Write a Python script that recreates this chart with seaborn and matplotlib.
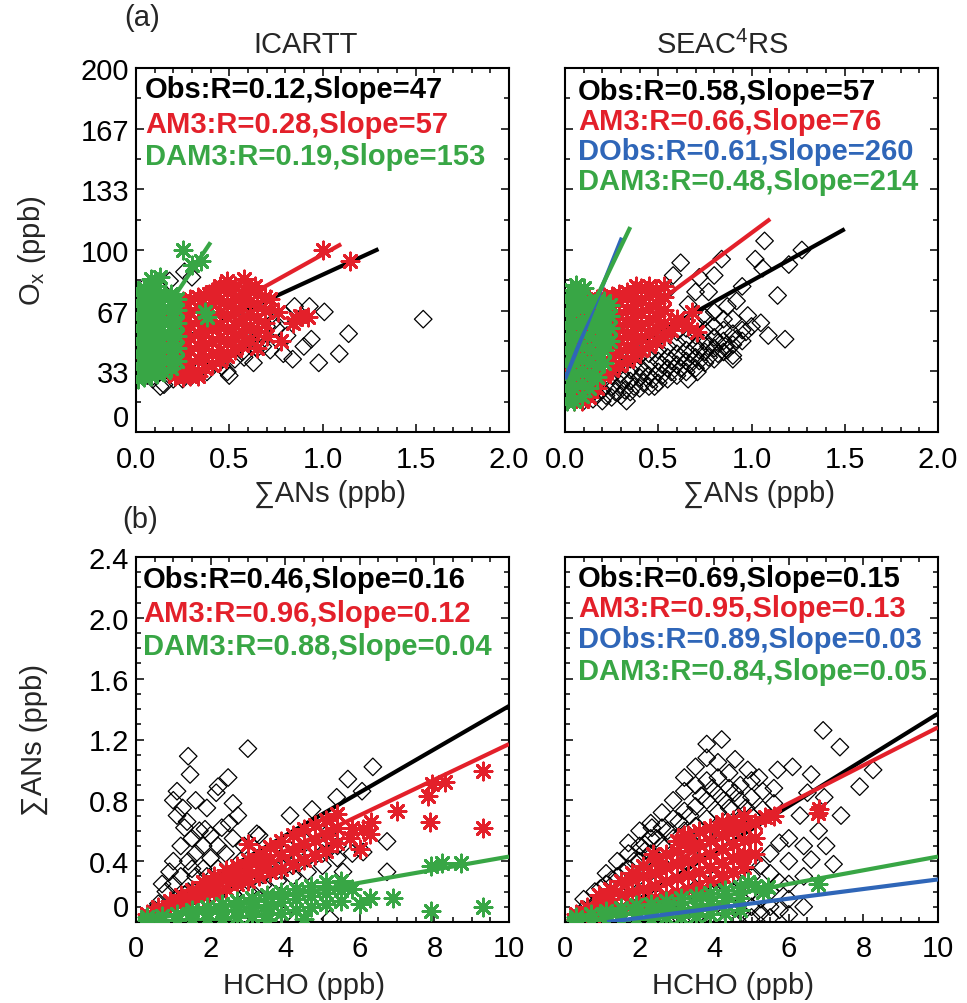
import numpy as np
import pandas as pd
import matplotlib
matplotlib.use("Agg")
import matplotlib.pyplot as plt
import seaborn as sns
from matplotlib.ticker import FixedLocator, MultipleLocator

sns.set_style("ticks")
plt.rcParams['font.family'] = ['Liberation Sans', 'DejaVu Sans']
plt.rcParams['mathtext.default'] = 'regular'

BLACK = '#000000'; RED = '#E3202A'; GREEN = '#38A645'; BLUE = '#2F66B8'

# ---------------- data ----------------
# (a) ICARTT : Ox (ppb) vs sum ANs (ppb)
ic_ox_obs = [(1.54,62),(1.14,54),(1.09,43),(0.98,38),(0.94,51),(1.01,66),(0.93,69),(0.85,69),
             (0.84,40),(0.79,43),(0.80,64),(0.81,53),(0.73,60),(0.70,58),(0.68,53),(0.65,46),
             (0.63,38),(0.57,44),(0.50,31),(0.49,33),(0.41,40),(0.38,33),(0.25,29),(0.20,29),
             (0.15,26),(0.13,25),(0.09,29),(0.06,31),(0.30,85),(0.26,88),(0.04,79),(0.18,83),
             (0.46,36),(0.55,48),(0.60,55),(0.35,35),(0.30,31),(0.75,57),(0.90,47),(0.72,45),
             (0.44,38),(0.53,40),(0.58,41),(0.61,50),(0.68,47)]
ic_ox_am3 = [(0.17,34),(0.17,44),(0.17,54),(0.17,64),(0.21,31),(0.21,41),(0.21,51),(0.21,61),(0.21,70),
             (0.25,30),(0.25,37),(0.25,44),(0.25,51),(0.25,58),(0.25,65),(0.25,72),
             (0.29,31),(0.29,38),(0.29,45),(0.29,52),(0.29,59),(0.29,66),(0.29,73),
             (0.33,33),(0.33,40),(0.33,47),(0.33,54),(0.33,61),(0.33,68),(0.33,74),
             (0.37,35),(0.37,41),(0.37,48),(0.37,55),(0.37,62),(0.37,69),(0.37,75),
             (0.41,37),(0.41,43),(0.41,50),(0.41,57),(0.41,64),(0.41,71),(0.41,77),
             (0.45,39),(0.45,45),(0.45,52),(0.45,59),(0.45,66),(0.45,73),(0.45,79),
             (0.49,42),(0.49,49),(0.49,56),(0.49,63),(0.49,70),(0.49,77),
             (0.53,45),(0.53,52),(0.53,59),(0.53,66),(0.53,73),(0.53,80),
             (0.57,48),(0.57,55),(0.57,62),(0.57,69),(0.57,76),
             (0.61,51),(0.61,58),(0.61,65),(0.61,72),(0.61,79),
             (0.65,55),(0.65,62),(0.65,69),(0.65,76),(0.69,60),(0.69,67),(0.69,74),
             (1.00,100),(1.15,94),(0.92,63),(0.84,60),(0.78,50),(0.58,84),(0.49,83),(0.39,76),
             (0.45,80),(0.64,80),(0.72,73),(0.76,66),(0.70,53),(0.65,46),(0.33,31),(0.20,36),
             (0.86,62),(0.88,64)]
ic_ox_dam3 = [(0.01,29),(0.01,36),(0.01,43),(0.01,50),(0.01,57),(0.01,64),(0.01,71),(0.01,77),
              (0.045,30),(0.045,37),(0.045,44),(0.045,51),(0.045,58),(0.045,65),(0.045,72),(0.045,79),
              (0.08,31),(0.08,38),(0.08,45),(0.08,52),(0.08,59),(0.08,66),(0.08,73),(0.08,80),
              (0.115,32),(0.115,39),(0.115,46),(0.115,53),(0.115,60),(0.115,67),(0.115,74),(0.115,80),
              (0.15,33),(0.15,40),(0.15,47),(0.15,54),(0.15,61),(0.15,68),(0.15,75),
              (0.185,35),(0.185,42),(0.185,49),(0.185,56),(0.185,63),(0.185,70),(0.185,76),
              (0.22,39),(0.22,46),(0.22,53),(0.22,60),(0.22,67),(0.22,73),
              (0.25,100),(0.35,94),(0.13,85),(0.38,63),(0.08,84),(0.37,66),(0.30,92)]

# (a) SEAC4RS : Ox (ppb) vs sum ANs (ppb)
se_ox_obs = [(0.10,17),(0.10,22),(0.15,18),(0.15,24),(0.20,17),(0.20,23),(0.20,28),(0.25,19),(0.25,25),
             (0.25,31),(0.30,20),(0.30,26),(0.30,32),(0.35,22),(0.35,28),(0.35,34),(0.35,40),(0.40,24),
             (0.40,30),(0.40,36),(0.40,42),(0.45,25),(0.45,31),(0.45,37),(0.45,43),(0.50,27),(0.50,33),
             (0.50,39),(0.50,45),(0.55,29),(0.55,35),(0.55,41),(0.55,47),(0.60,31),(0.60,37),(0.60,43),
             (0.60,49),(0.60,55),(0.65,33),(0.65,39),(0.65,45),(0.65,51),(0.65,57),(0.70,35),(0.70,41),
             (0.70,47),(0.70,53),(0.70,60),(0.75,38),(0.75,44),(0.75,50),(0.75,56),(0.75,63),(0.80,40),
             (0.80,46),(0.80,52),(0.80,58),(0.80,66),(0.85,44),(0.85,50),(0.85,56),(0.85,62),(0.90,42),
             (0.90,48),(0.90,54),(0.95,50),(0.95,56),
             (0.12,20),(0.17,21),(0.22,20),(0.27,22),(0.32,23),(0.37,25),(0.42,27),(0.47,29),(0.52,31),
             (0.57,33),(0.62,35),(0.67,37),(0.72,39),(0.77,41),(0.82,43),(0.87,45),(0.92,51),
             (0.32,29),(0.42,33),(0.52,37),(0.62,41),(0.72,45),(0.82,49),(0.57,39),(0.67,43),(0.77,47),
             (1.07,105),(1.27,100),(1.20,92),(1.14,75),(1.18,51),(1.02,95),(1.06,90),(0.84,95),(0.80,86),
             (0.62,93),(0.58,86),(0.77,77),(0.87,69),(0.98,64),(0.97,55),(1.09,53),(0.86,47),(0.90,40),
             (0.71,33),(0.66,29),(0.48,25),(0.33,17),(0.70,77),(0.92,72),(0.66,70),(0.74,64),(1.00,58),
             (0.55,78),(0.95,80),(1.05,60),(0.90,62),(0.72,85)]
se_ox_am3 = [(0.05,17),(0.05,24),(0.05,31),(0.05,38),(0.05,45),(0.05,52),(0.05,59),(0.05,66),(0.05,72),
             (0.09,17),(0.09,24),(0.09,31),(0.09,38),(0.09,45),(0.09,52),(0.09,59),(0.09,66),(0.09,72),
             (0.13,19),(0.13,27),(0.13,34),(0.13,41),(0.13,48),(0.13,55),(0.13,62),(0.13,69),(0.13,73),
             (0.17,24),(0.17,31),(0.17,38),(0.17,45),(0.17,52),(0.17,59),(0.17,66),(0.17,73),
             (0.21,32),(0.21,39),(0.21,46),(0.21,53),(0.21,60),(0.21,67),(0.21,74),
             (0.25,34),(0.25,41),(0.25,48),(0.25,55),(0.25,62),(0.25,69),(0.25,75),
             (0.29,37),(0.29,44),(0.29,51),(0.29,58),(0.29,65),(0.29,72),(0.29,76),
             (0.33,39),(0.33,46),(0.33,53),(0.33,60),(0.33,67),(0.33,74),(0.33,77),
             (0.37,42),(0.37,49),(0.37,56),(0.37,63),(0.37,70),(0.37,77),
             (0.41,45),(0.41,52),(0.41,59),(0.41,66),(0.41,73),(0.41,79),
             (0.45,47),(0.45,54),(0.45,61),(0.45,68),(0.45,75),(0.45,80),
             (0.49,50),(0.49,57),(0.49,64),(0.49,71),(0.49,78),
             (0.53,53),(0.53,60),(0.53,67),(0.53,74),(0.53,80),
             (0.38,80),(0.71,55),(0.68,66),(0.21,31),(0.63,60),(0.60,62),(0.57,56),(0.66,58),(0.15,25)]
se_ox_dam3 = [(0.01,17),(0.01,24),(0.01,31),(0.01,38),(0.01,45),(0.01,52),(0.01,59),(0.01,66),(0.01,73),
              (0.05,17),(0.05,24),(0.05,31),(0.05,38),(0.05,45),(0.05,52),(0.05,59),(0.05,66),(0.05,73),
              (0.09,20),(0.09,27),(0.09,34),(0.09,41),(0.09,48),(0.09,55),(0.09,62),(0.09,69),(0.09,74),
              (0.13,24),(0.13,31),(0.13,38),(0.13,45),(0.13,52),(0.13,59),(0.13,66),(0.13,72),
              (0.17,30),(0.17,37),(0.17,44),(0.17,51),(0.17,58),(0.17,65),(0.17,72),
              (0.21,38),(0.21,45),(0.21,52),(0.21,59),(0.21,66),(0.21,72),
              (0.24,50),(0.24,57),(0.24,64),(0.24,70),
              (0.06,81),(0.10,79),(0.03,78)]

# (b) ICARTT : sum ANs (ppb) vs HCHO (ppb)
ic_an_obs = [(0.5,0.08),(0.6,0.12),(0.8,0.20),(0.9,0.33),(1.0,0.25),(1.0,0.40),(1.1,0.70),(1.2,0.30),
             (1.2,0.50),(1.25,0.75),(1.3,0.62),(1.4,0.20),(1.4,0.40),(1.5,0.55),(1.6,0.30),(1.6,0.45),
             (1.7,0.60),(1.8,0.35),(1.8,0.50),(2.0,0.42),(2.0,0.57),(2.2,0.50),(2.3,0.62),(2.4,0.45),
             (2.5,0.65),(2.6,0.55),(2.9,0.50),(3.3,0.57),(1.1,0.15),(1.3,0.18),(1.5,0.35),(1.9,0.30),
             (2.2,0.35),(2.8,0.40),(0.7,0.25),(1.9,0.75),(2.6,0.78),(1.6,0.80),
             (2.6,0.18),(3.0,0.20),(3.0,0.27),(3.4,0.24),(3.4,0.31),(3.8,0.27),(3.8,0.34),(4.2,0.30),
             (4.2,0.37),(4.6,0.33),(4.6,0.42),(5.0,0.37),(5.0,0.45),(5.4,0.42),(5.4,0.50),(5.8,0.45),
             (4.0,0.45),(4.4,0.52),(4.8,0.58),(5.2,0.60),(2.2,0.15),(1.8,0.12),
             (3.0,1.14),(1.4,1.09),(1.45,0.97),(2.47,0.95),(1.1,0.86),(1.0,0.80),(2.2,0.89),(2.15,0.85),
             (2.73,0.70),(6.35,1.02),(5.68,0.94),(5.38,0.82),(6.06,0.86),(6.73,0.53),(6.73,0.33),
             (4.72,0.74),(4.13,0.70),(3.24,0.58),(1.85,0.61),(1.37,0.66),(5.2,0.55),(6.09,0.46),
             (5.55,0.33),(5.2,0.02),(3.4,0.03),(4.0,0.05)]
ic_an_am3 = [(0.3,0.05),(0.6,0.07),(0.6,0.10),(0.9,0.10),(0.9,0.14),(1.2,0.12),(1.2,0.18),
             (1.5,0.15),(1.5,0.21),(1.8,0.17),(1.8,0.22),(1.8,0.26),(2.1,0.20),(2.1,0.25),(2.1,0.30),
             (2.4,0.22),(2.4,0.28),(2.4,0.34),(2.7,0.25),(2.7,0.31),(2.7,0.37),(3.0,0.27),(3.0,0.34),
             (3.0,0.41),(3.3,0.30),(3.3,0.37),(3.3,0.45),(3.6,0.33),(3.6,0.41),(3.6,0.49),(3.9,0.35),
             (3.9,0.44),(3.9,0.53),(4.2,0.38),(4.2,0.47),(4.2,0.57),(4.5,0.41),(4.5,0.51),(4.5,0.61),
             (4.8,0.44),(4.8,0.54),(4.8,0.64),(5.1,0.47),(5.1,0.57),(5.1,0.67),(5.4,0.52),(5.4,0.62),
             (5.4,0.71),
             (7.94,0.91),(8.28,0.92),(7.83,0.83),(7.0,0.73),(7.88,0.66),(6.09,0.61),(6.27,0.58),
             (5.74,0.55),(6.0,0.48),(3.0,0.51),(9.3,0.99),(9.3,0.62),(6.3,0.66),(5.8,0.62)]
ic_an_dam3 = [(0.3,0.01),(0.3,0.03),(0.7,0.01),(0.7,0.04),(1.1,0.01),(1.1,0.05),(1.5,0.02),(1.5,0.06),
              (1.5,0.08),(1.9,0.02),(1.9,0.06),(1.9,0.10),(2.3,0.02),(2.3,0.07),(2.3,0.12),(2.7,0.03),
              (2.7,0.08),(2.7,0.14),(3.1,0.04),(3.1,0.10),(3.1,0.16),(3.5,0.05),(3.5,0.11),(3.5,0.18),
              (3.9,0.06),(3.9,0.13),(3.9,0.20),(4.3,0.08),(4.3,0.15),(4.3,0.22),(4.7,0.10),(4.7,0.17),
              (4.7,0.24),(5.1,0.12),(5.1,0.19),(5.1,0.26),(5.5,0.14),(5.5,0.21),(5.5,0.27),
              (6.27,0.16),(6.9,0.16),(7.9,0.07),(7.9,0.37),(8.2,0.39),(8.7,0.39),(9.3,0.10),(5.8,0.22),
              (6.0,0.12),(4.5,0.02),(3.5,0.01)]

# (b) SEAC4RS : sum ANs (ppb) vs HCHO (ppb)
se_an_obs = [(0.5,0.08),(0.5,0.15),(0.8,0.12),(0.8,0.20),(1.1,0.15),(1.1,0.25),(1.1,0.32),(1.4,0.20),
             (1.4,0.30),(1.4,0.40),(1.7,0.25),(1.7,0.35),(1.7,0.45),(1.7,0.52),(2.0,0.30),(2.0,0.40),
             (2.0,0.50),(2.0,0.60),(2.3,0.33),(2.3,0.45),(2.3,0.55),(2.3,0.65),(2.6,0.38),(2.6,0.50),
             (2.6,0.62),(2.6,0.72),(2.9,0.42),(2.9,0.55),(2.9,0.68),(2.9,0.80),(3.2,0.47),(3.2,0.60),
             (3.2,0.73),(3.2,0.86),(3.2,0.95),(3.5,0.50),(3.5,0.63),(3.5,0.76),(3.5,0.90),(3.5,1.02),
             (3.8,0.55),(3.8,0.68),(3.8,0.80),(3.8,0.93),(3.8,1.08),(4.1,0.60),(4.1,0.72),(4.1,0.84),
             (4.1,0.95),(4.1,1.05),(4.4,0.63),(4.4,0.75),(4.4,0.88),(4.4,0.98),(4.7,0.68),(4.7,0.80),
             (4.7,0.90),(5.0,0.70),(5.0,0.82),(5.0,0.93),(5.3,0.74),(5.3,0.86),(5.6,0.78),(5.6,0.88),
             (0.95,0.22),(1.25,0.28),(1.55,0.33),(1.85,0.40),(2.15,0.47),(2.45,0.55),(2.75,0.60),
             (3.05,0.66),(3.35,0.70),(3.65,0.83),(3.95,0.88),(4.25,0.80),(4.55,0.85),(4.85,0.75),
             (2.5,0.15),(3.0,0.05),(3.0,0.17),(3.5,0.03),(3.5,0.12),(3.5,0.22),(4.0,0.03),(4.0,0.10),
             (4.0,0.20),(4.0,0.28),(4.5,0.02),(4.5,0.10),(4.5,0.20),(4.5,0.30),(5.0,0.03),(5.0,0.10),
             (5.0,0.20),(5.0,0.30),(5.0,0.40),(5.5,0.03),(5.5,0.10),(5.5,0.20),(5.5,0.32),(5.5,0.45),
             (6.0,0.05),(6.0,0.15),(6.0,0.25),(6.0,0.40),(6.0,0.55),(6.4,0.10),(6.4,0.30),(6.4,0.50),
             (5.25,0.15),(5.75,0.26),(5.25,0.37),(5.75,0.52),(4.75,0.06),(5.25,0.06),(5.75,0.08),
             (6.92,1.26),(7.37,1.15),(4.2,1.20),(3.8,1.17),(4.56,1.07),(6.1,1.02),(6.6,0.97),(8.26,1.00),
             (7.9,0.89),(5.2,0.95),(6.95,0.82),(7.4,0.70),(6.6,0.41),(7.2,0.38),(2.33,0.62),(2.14,0.51),
             (6.3,0.70),(6.8,0.60),(6.5,0.85),(5.7,1.00),(4.9,1.00),(7.0,0.50)]
se_an_am3 = [(0.3,0.02),(0.3,0.05),(0.6,0.04),(0.6,0.10),(0.9,0.06),(0.9,0.12),(0.9,0.18),(1.2,0.08),
             (1.2,0.15),(1.2,0.22),(1.5,0.10),(1.5,0.18),(1.5,0.27),(1.8,0.12),(1.8,0.20),(1.8,0.28),
             (1.8,0.32),(2.1,0.14),(2.1,0.22),(2.1,0.30),(2.1,0.37),(2.4,0.16),(2.4,0.24),(2.4,0.32),
             (2.4,0.40),(2.7,0.18),(2.7,0.27),(2.7,0.36),(2.7,0.45),(3.0,0.20),(3.0,0.29),(3.0,0.38),
             (3.0,0.47),(3.0,0.53),(3.3,0.22),(3.3,0.31),(3.3,0.40),(3.3,0.49),(3.3,0.57),(3.6,0.24),
             (3.6,0.33),(3.6,0.42),(3.6,0.51),(3.6,0.60),(3.9,0.27),(3.9,0.36),(3.9,0.45),(3.9,0.54),
             (3.9,0.62),(4.2,0.30),(4.2,0.39),(4.2,0.48),(4.2,0.57),(4.2,0.64),(4.5,0.33),(4.5,0.42),
             (4.5,0.51),(4.5,0.60),(4.5,0.67),(4.8,0.36),(4.8,0.45),(4.8,0.54),(4.8,0.63),(4.8,0.70),
             (5.1,0.45),(5.1,0.55),(5.1,0.65),
             (6.78,0.72),(5.36,0.69),(4.2,0.66),(3.2,0.57),(2.36,0.45),(4.77,0.43),(5.1,0.55),(4.24,0.30),
             (5.6,0.70),(6.8,0.74)]
se_an_dam3 = [(0.3,0.01),(0.3,0.03),(0.7,0.01),(0.7,0.05),(1.1,0.01),(1.1,0.05),(1.1,0.07),(1.5,0.01),
              (1.5,0.05),(1.5,0.09),(1.9,0.02),(1.9,0.06),(1.9,0.11),(2.3,0.02),(2.3,0.07),(2.3,0.12),
              (2.7,0.03),(2.7,0.08),(2.7,0.14),(3.1,0.03),(3.1,0.09),(3.1,0.16),(3.5,0.04),(3.5,0.10),
              (3.5,0.17),(3.9,0.05),(3.9,0.12),(3.9,0.19),(4.3,0.06),(4.3,0.14),(4.3,0.21),(4.7,0.08),
              (4.7,0.16),(4.7,0.23),
              (6.78,0.25),(5.44,0.23),(5.1,0.24),(5.3,0.20),(4.9,0.26)]

# regression lines: (intercept, slope, x start, x end)
fit_ic_ox = {'obs': (39.4, 47, 0.0, 1.30), 'am3': (40.5, 57, 0.0, 1.10), 'dam3': (43.0, 153, 0.0, 0.40)}
fit_se_ox = {'obs': (26.0, 57, 0.1, 1.50), 'am3': (33.4, 76, 0.0, 1.10),
             'dobs': (29.0, 255, 0.0, 0.305), 'dam3': (37.7, 214, 0.0, 0.35)}
fit_ic_an = {'obs': (0.0, 0.142, 0.1, 10), 'am3': (0.0, 0.117, 0.1, 10), 'dam3': (0.0, 0.043, 0.1, 10)}
fit_se_an = {'obs': (-0.15, 0.152, 1.0, 10), 'am3': (0.03, 0.125, 0.2, 10),
             'dobs': (-0.036, 0.0316, 1.13, 10), 'dam3': (-0.02, 0.045, 0.5, 10)}

# annotation texts
txt_ic_ox = [("Obs:R=0.12,Slope=47", BLACK), ("AM3:R=0.28,Slope=57", RED), ("DAM3:R=0.19,Slope=153", GREEN)]
txt_se_ox = [("Obs:R=0.58,Slope=57", BLACK), ("AM3:R=0.66,Slope=76", RED),
             ("DObs:R=0.61,Slope=260", BLUE), ("DAM3:R=0.48,Slope=214", GREEN)]
txt_ic_an = [("Obs:R=0.46,Slope=0.16", BLACK), ("AM3:R=0.96,Slope=0.12", RED), ("DAM3:R=0.88,Slope=0.04", GREEN)]
txt_se_an = [("Obs:R=0.69,Slope=0.15", BLACK), ("AM3:R=0.95,Slope=0.13", RED),
             ("DObs:R=0.89,Slope=0.03", BLUE), ("DAM3:R=0.84,Slope=0.05", GREEN)]

ox_ticks = [0, 200/6, 400/6, 100, 800/6, 1000/6, 200]
ox_ticklabels = ["0", "33", "67", "100", "133", "167", "200"]
an_ticks = [0, 0.4, 0.8, 1.2, 1.6, 2.0, 2.4]
an_ticklabels = ["0", "0.4", "0.8", "1.2", "1.6", "2.0", "2.4"]
ansx_ticks = [0, 0.5, 1.0, 1.5, 2.0]
ansx_ticklabels = ["0.0", "0.5", "1.0", "1.5", "2.0"]
hcho_ticks = [0, 2, 4, 6, 8, 10]
hcho_ticklabels = ["0", "2", "4", "6", "8", "10"]

# ---------------- drawing ----------------
W, H = 967, 1004
fig = plt.figure(figsize=(W/100, H/100), dpi=100)

def axes_px(left, top, right, bottom):
    return fig.add_axes([left/W, 1-bottom/H, (right-left)/W, (bottom-top)/H])

ax1 = axes_px(136, 69, 509, 433)
ax2 = axes_px(565, 69, 938, 433)
ax3 = axes_px(136, 558, 509, 923)
ax4 = axes_px(565, 558, 938, 923)

FS = 21

def scatter(ax, pts, kind, color, z):
    df = pd.DataFrame(pts, columns=['x', 'y'])
    if kind == 'diamond':
        sns.scatterplot(data=df, x='x', y='y', ax=ax, marker='D', s=80, color='black',
                        facecolor='none', edgecolor='black', linewidth=0.9, zorder=z, legend=False)
    else:
        sns.scatterplot(data=df, x='x', y='y', ax=ax, marker=(8, 2, 0), s=150, color=color,
                        linewidth=2.1, zorder=z, legend=False)

def fitline(ax, fit, color, z):
    b, m, x0, x1 = fit
    df = pd.DataFrame({'x': [x0, x1], 'y': [b + m*x0, b + m*x1]})
    sns.lineplot(data=df, x='x', y='y', ax=ax, color=color, linewidth=3.0, zorder=z,
                 solid_capstyle='butt', legend=False)

def panel(ax, obs, am3, dam3, fits, texts, baselines, xtext):
    scatter(ax, obs, 'diamond', BLACK, 1)
    fitline(ax, fits['obs'], BLACK, 2)
    scatter(ax, am3, 'ast', RED, 3)
    fitline(ax, fits['am3'], RED, 4)
    scatter(ax, dam3, 'ast', GREEN, 5)
    if 'dobs' in fits:
        fitline(ax, fits['dobs'], BLUE, 6)
    fitline(ax, fits['dam3'], GREEN, 7)
    for (t, c), yb in zip(texts, baselines):
        ax.text(xtext, yb, t, color=c, fontsize=FS, fontweight='bold', transform=ax.transAxes,
                ha='left', va='baseline', zorder=10)

panel(ax1, ic_ox_obs, ic_ox_am3, ic_ox_dam3, fit_ic_ox, txt_ic_ox, [0.920, 0.824, 0.736], 0.024)
panel(ax2, se_ox_obs, se_ox_am3, se_ox_dam3, fit_se_ox, txt_se_ox, [0.915, 0.832, 0.750, 0.668], 0.035)
panel(ax3, ic_an_obs, ic_an_am3, ic_an_dam3, fit_ic_an, txt_ic_an, [0.918, 0.825, 0.734], 0.019)
panel(ax4, se_an_obs, se_an_am3, se_an_dam3, fit_se_an, txt_se_an, [0.921, 0.838, 0.753, 0.666], 0.035)

for ax in (ax1, ax2):
    ax.set_xlim(0, 2.0); ax.set_ylim(0, 200)
    ax.xaxis.set_major_locator(FixedLocator(ansx_ticks))
    ax.xaxis.set_minor_locator(MultipleLocator(0.1))
    ax.yaxis.set_major_locator(FixedLocator(ox_ticks))
    ax.yaxis.set_minor_locator(MultipleLocator(100/6))
    ax.set_xticklabels(ansx_ticklabels)
    ax.set_yticklabels(ox_ticklabels)
    ax.set_xlabel("\u2211ANs (ppb)", fontsize=FS)
    ax.xaxis.set_label_coords(0.52, -0.13)
for ax in (ax3, ax4):
    ax.set_xlim(0, 10); ax.set_ylim(0, 2.4)
    ax.xaxis.set_major_locator(FixedLocator(hcho_ticks))
    ax.xaxis.set_minor_locator(MultipleLocator(0.5))
    ax.yaxis.set_major_locator(FixedLocator(an_ticks))
    ax.yaxis.set_minor_locator(MultipleLocator(0.1))
    ax.set_xticklabels(hcho_ticklabels)
    ax.set_yticklabels(an_ticklabels)
    ax.set_xlabel("HCHO (ppb)", fontsize=FS)
    ax.xaxis.set_label_coords(0.45, -0.135)

for ax in (ax1, ax2, ax3, ax4):
    ax.set_ylabel("")
    for sp in ax.spines.values():
        sp.set_linewidth(1.5); sp.set_color('black'); sp.set_visible(True)
    ax.tick_params(which='both', direction='in', top=True, right=True, width=1.1, colors='black',
                   labelsize=FS)
    ax.tick_params(which='major', length=6)
    ax.tick_params(which='minor', length=3.5)
    ax.tick_params(axis='x', pad=9)
    ax.tick_params(axis='y', pad=5)

for ax in (ax2, ax4):
    ax.tick_params(labelleft=False)

# the lowest y label sits just above the corner, as in the reference
for ax in (ax1, ax3):
    ax.yaxis.get_major_ticks()[0].label1.set_verticalalignment('bottom')

ax1.set_ylabel("O$_x$ (ppb)", fontsize=FS)
ax1.yaxis.set_label_coords(-0.235, 0.5)
ax3.set_ylabel("\u2211ANs (ppb)", fontsize=FS)
ax3.yaxis.set_label_coords(-0.235, 0.5)

fig.text(124/W, 1-18/H, "(a)", fontsize=FS, ha='left', va='center')
fig.text(306/W, 1-45/H, "ICARTT", fontsize=FS, ha='center', va='center')
fig.text(722/W, 1-45/H, "SEAC$^4$RS", fontsize=FS, ha='center', va='center')
fig.text(122/W, 1-520/H, "(b)", fontsize=FS, ha='left', va='center')

fig.savefig("out.png", dpi=100)
